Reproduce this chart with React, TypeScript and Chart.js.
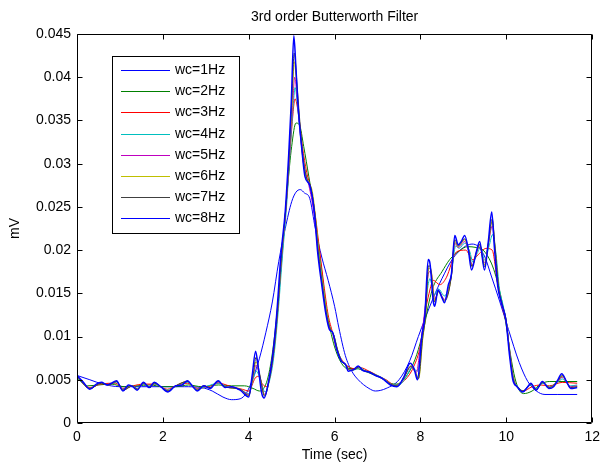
import React, { useEffect, useRef } from "react";
import { Chart, registerables } from "chart.js";

Chart.register(...registerables);

const TITLE = "3rd order Butterworth Filter";
const X_LABEL = "Time (sec)";
const Y_LABEL = "mV";
const X_MIN = 0;
const X_MAX = 12;
const X_STEP = 2;
const Y_MIN = 0;
const Y_MAX = 0.045;
const Y_STEP = 0.005;

const SERIES_LABELS = ["wc=1Hz", "wc=2Hz", "wc=3Hz", "wc=4Hz", "wc=5Hz", "wc=6Hz", "wc=7Hz", "wc=8Hz"];
const SERIES_COLORS = ["#0000ff", "#008000", "#ff0000", "#00bfbf", "#bf00bf", "#bfbf00", "#404040", "#0000ff"];

// wc = 1 Hz
const T1 = [0, 0.3, 0.6, 1.0, 1.5, 2.0, 2.5, 2.9, 3.15, 3.4, 3.6, 3.8, 3.95, 4.1, 4.25, 4.4, 4.55, 4.7, 4.85, 5.0, 5.1, 5.2, 5.3, 5.42, 5.55, 5.7, 5.85, 6.0, 6.1, 6.25, 6.4, 6.55, 6.8, 6.95, 7.2, 7.5, 7.75, 7.95, 8.1, 8.3, 8.5, 8.75, 9.0, 9.2, 9.35, 9.5, 9.65, 9.85, 10.05, 10.3, 10.5, 10.7, 10.9, 11.2, 11.65];
const V1 = [0.0055, 0.005, 0.0045, 0.0042, 0.0042, 0.0042, 0.0042, 0.0041, 0.0037, 0.003, 0.0027, 0.0028, 0.0035, 0.0052, 0.0075, 0.0105, 0.014, 0.0187, 0.0225, 0.0256, 0.0267, 0.027, 0.0266, 0.026, 0.0225, 0.0192, 0.0165, 0.0135, 0.011, 0.0078, 0.006, 0.005, 0.004, 0.0037, 0.004, 0.005, 0.0072, 0.01, 0.012, 0.0145, 0.0167, 0.019, 0.0203, 0.0207, 0.0204, 0.0192, 0.017, 0.014, 0.0108, 0.007, 0.0048, 0.0037, 0.0033, 0.0033, 0.0033];

// wc = 2 Hz
const T2 = [0, 0.25, 0.5, 0.8, 1.1, 1.4, 1.7, 2.0, 2.3, 2.6, 2.9, 3.3, 3.6, 3.9, 4.1, 4.25, 4.4, 4.5, 4.6, 4.7, 4.8, 4.9, 5.0, 5.1, 5.18, 5.28, 5.4, 5.5, 5.6, 5.7, 5.8, 5.9, 6.0, 6.15, 6.3, 6.5, 6.7, 6.9, 7.1, 7.3, 7.45, 7.6, 7.8, 7.95, 8.1, 8.2, 8.3, 8.5, 8.68, 8.9, 9.1, 9.3, 9.46, 9.65, 9.76, 9.9, 10.0, 10.1, 10.2, 10.3, 10.4, 10.6, 10.8, 11.0, 11.65];
const V2 = [0.0052, 0.0043, 0.0044, 0.0045, 0.0042, 0.0043, 0.0044, 0.0042, 0.0042, 0.0044, 0.0042, 0.0044, 0.0043, 0.0043, 0.004, 0.0037, 0.0045, 0.0065, 0.01, 0.015, 0.021, 0.027, 0.032, 0.0347, 0.0345, 0.032, 0.0285, 0.0255, 0.0215, 0.0175, 0.0135, 0.0108, 0.0088, 0.007, 0.0063, 0.0063, 0.006, 0.0056, 0.0052, 0.0046, 0.0045, 0.005, 0.0065, 0.0085, 0.0115, 0.014, 0.0158, 0.0175, 0.0189, 0.0199, 0.0204, 0.0203, 0.02, 0.0185, 0.0169, 0.014, 0.0112, 0.0078, 0.0052, 0.0038, 0.0034, 0.0037, 0.0045, 0.0048, 0.0048];

// wc = 3 Hz
const T3 = [0, 0.3, 0.55, 0.9, 1.07, 1.3, 1.55, 1.8, 2.1, 2.3, 2.57, 2.8, 3.05, 3.3, 3.6, 3.85, 4.0, 4.15, 4.22, 4.32, 4.42, 4.52, 4.62, 4.72, 4.82, 4.92, 5.0, 5.08, 5.15, 5.25, 5.35, 5.45, 5.55, 5.65, 5.75, 5.85, 5.95, 6.05, 6.2, 6.3, 6.45, 6.6, 6.8, 7.0, 7.2, 7.4, 7.6, 7.84, 8.0, 8.1, 8.2, 8.3, 8.45, 8.6, 8.84, 9.05, 9.22, 9.35, 9.53, 9.67, 9.8, 9.9, 10.0, 10.08, 10.17, 10.27, 10.4, 10.6, 10.8, 11.0, 11.3, 11.65];
const V3 = [0.0053, 0.0041, 0.0045, 0.0046, 0.004, 0.0043, 0.0045, 0.0045, 0.0039, 0.0043, 0.0046, 0.004, 0.0042, 0.0046, 0.0042, 0.0039, 0.0037, 0.0052, 0.0054, 0.0045, 0.0042, 0.0065, 0.0105, 0.016, 0.022, 0.0285, 0.034, 0.0375, 0.036, 0.032, 0.029, 0.027, 0.024, 0.02, 0.016, 0.0125, 0.0105, 0.0085, 0.0071, 0.0066, 0.0063, 0.0064, 0.006, 0.0055, 0.005, 0.0044, 0.0048, 0.0065, 0.009, 0.0125, 0.015, 0.0165, 0.016, 0.0168, 0.0198, 0.02, 0.0189, 0.0195, 0.0202, 0.02, 0.016, 0.0135, 0.0115, 0.0082, 0.0052, 0.0041, 0.0037, 0.0042, 0.0044, 0.0043, 0.0047, 0.0046];

// wc = 4 Hz
const T4 = [0, 0.3, 0.57, 0.75, 0.92, 1.07, 1.3, 1.4, 1.55, 1.7, 1.8, 2.12, 2.3, 2.57, 2.8, 3.0, 3.29, 3.5, 3.8, 4.0, 4.1, 4.18, 4.27, 4.38, 4.48, 4.58, 4.68, 4.78, 4.88, 4.97, 5.04, 5.08, 5.14, 5.22, 5.32, 5.43, 5.54, 5.63, 5.73, 5.83, 5.91, 5.98, 6.08, 6.18, 6.28, 6.38, 6.5, 6.6, 6.7, 6.85, 7.0, 7.15, 7.32, 7.5, 7.65, 7.8, 7.93, 8.05, 8.15, 8.22, 8.32, 8.42, 8.56, 8.72, 8.82, 8.9, 9.03, 9.15, 9.22, 9.32, 9.4, 9.5, 9.6, 9.68, 9.76, 9.84, 9.92, 10.0, 10.08, 10.17, 10.27, 10.4, 10.57, 10.7, 10.85, 11.0, 11.2, 11.3, 11.5, 11.65];
const V4 = [0.0053, 0.004, 0.0046, 0.0044, 0.0047, 0.0039, 0.0043, 0.004, 0.0045, 0.0042, 0.0045, 0.0038, 0.0043, 0.0047, 0.0039, 0.0042, 0.0046, 0.0042, 0.0039, 0.0034, 0.005, 0.006, 0.005, 0.0036, 0.0048, 0.0075, 0.0125, 0.019, 0.025, 0.032, 0.037, 0.0388, 0.0365, 0.0325, 0.029, 0.0273, 0.024, 0.0199, 0.016, 0.0124, 0.0108, 0.0102, 0.0083, 0.0071, 0.0066, 0.0061, 0.0062, 0.0064, 0.0061, 0.0058, 0.0055, 0.0051, 0.0045, 0.0044, 0.0052, 0.0064, 0.006, 0.0103, 0.015, 0.0167, 0.0148, 0.0155, 0.0147, 0.0172, 0.0205, 0.0202, 0.0208, 0.0198, 0.0186, 0.0196, 0.0203, 0.0188, 0.0205, 0.0218, 0.0195, 0.0155, 0.0137, 0.0117, 0.0082, 0.0051, 0.0042, 0.0037, 0.0044, 0.004, 0.0046, 0.0042, 0.0047, 0.0051, 0.0043, 0.0044];

// wc = 5 Hz
const T5 = [0, 0.3, 0.57, 0.75, 0.92, 1.07, 1.3, 1.4, 1.55, 1.7, 1.8, 2.12, 2.3, 2.57, 2.8, 2.95, 3.1, 3.29, 3.45, 3.8, 4.0, 4.1, 4.17, 4.26, 4.37, 4.47, 4.57, 4.67, 4.77, 4.87, 4.96, 5.02, 5.07, 5.13, 5.2, 5.29, 5.4, 5.52, 5.61, 5.71, 5.81, 5.89, 5.97, 6.07, 6.17, 6.27, 6.35, 6.47, 6.57, 6.67, 6.82, 6.97, 7.12, 7.3, 7.47, 7.62, 7.78, 7.9, 8.0, 8.1, 8.2, 8.26, 8.33, 8.42, 8.56, 8.72, 8.8, 8.88, 9.03, 9.12, 9.2, 9.3, 9.38, 9.49, 9.58, 9.67, 9.74, 9.82, 9.9, 10.0, 10.08, 10.16, 10.26, 10.39, 10.57, 10.7, 10.85, 11.0, 11.2, 11.3, 11.5, 11.65];
const V5 = [0.0054, 0.004, 0.0046, 0.0044, 0.0048, 0.0038, 0.0043, 0.0039, 0.0046, 0.0041, 0.0046, 0.0037, 0.0043, 0.0048, 0.0038, 0.0043, 0.0041, 0.0047, 0.0042, 0.0039, 0.0033, 0.0053, 0.0067, 0.0054, 0.0033, 0.0048, 0.0077, 0.0127, 0.0195, 0.025, 0.0318, 0.0365, 0.04, 0.0375, 0.0335, 0.0295, 0.0275, 0.0242, 0.02, 0.016, 0.0125, 0.0109, 0.0103, 0.0084, 0.0071, 0.0067, 0.0061, 0.0062, 0.0065, 0.0061, 0.0059, 0.0055, 0.0051, 0.0045, 0.0043, 0.0053, 0.0065, 0.0058, 0.009, 0.013, 0.0175, 0.0172, 0.0143, 0.0153, 0.0143, 0.0171, 0.0208, 0.0203, 0.021, 0.0199, 0.0183, 0.0196, 0.0205, 0.0185, 0.0206, 0.0228, 0.0199, 0.0156, 0.0137, 0.0117, 0.0081, 0.0051, 0.0042, 0.0037, 0.0045, 0.0039, 0.0047, 0.0041, 0.0048, 0.0053, 0.0042, 0.0043];

// wc = 6 Hz
const T6 = [0, 0.3, 0.57, 0.75, 0.92, 1.07, 1.3, 1.4, 1.55, 1.7, 1.8, 2.12, 2.3, 2.57, 2.8, 2.95, 3.1, 3.29, 3.45, 3.8, 4.0, 4.1, 4.17, 4.25, 4.37, 4.47, 4.57, 4.67, 4.77, 4.87, 4.95, 5.01, 5.06, 5.12, 5.19, 5.27, 5.37, 5.48, 5.56, 5.63, 5.73, 5.83, 5.9, 5.97, 6.07, 6.17, 6.27, 6.35, 6.47, 6.57, 6.67, 6.82, 6.97, 7.12, 7.3, 7.47, 7.62, 7.78, 7.88, 7.96, 8.05, 8.12, 8.19, 8.25, 8.33, 8.42, 8.56, 8.72, 8.8, 8.88, 9.03, 9.12, 9.2, 9.3, 9.38, 9.49, 9.58, 9.67, 9.74, 9.82, 9.9, 10.0, 10.08, 10.16, 10.26, 10.39, 10.57, 10.7, 10.85, 11.0, 11.2, 11.3, 11.5, 11.65];
const V6 = [0.0054, 0.004, 0.0046, 0.0044, 0.0048, 0.0038, 0.0043, 0.0039, 0.0046, 0.0041, 0.0046, 0.0037, 0.0043, 0.0048, 0.0038, 0.0043, 0.0041, 0.0048, 0.0042, 0.0039, 0.0032, 0.0054, 0.0071, 0.0056, 0.0032, 0.0048, 0.0078, 0.0128, 0.0197, 0.0252, 0.0318, 0.0368, 0.0418, 0.0388, 0.0345, 0.0302, 0.028, 0.0268, 0.0236, 0.0197, 0.0158, 0.0124, 0.0109, 0.0103, 0.0084, 0.0071, 0.0067, 0.0061, 0.0062, 0.0065, 0.0061, 0.0059, 0.0055, 0.0051, 0.0045, 0.0043, 0.0053, 0.0066, 0.0059, 0.0052, 0.0096, 0.0125, 0.0179, 0.0176, 0.0141, 0.0152, 0.0142, 0.017, 0.021, 0.0204, 0.0212, 0.02, 0.0181, 0.0197, 0.0206, 0.0183, 0.0207, 0.0233, 0.0201, 0.0156, 0.0137, 0.0117, 0.008, 0.0051, 0.0042, 0.0037, 0.0045, 0.0039, 0.0047, 0.0041, 0.0049, 0.0054, 0.0041, 0.0042];

// wc = 7 Hz
const T7 = [0, 0.3, 0.57, 0.75, 0.92, 1.07, 1.3, 1.4, 1.55, 1.7, 1.8, 2.12, 2.3, 2.57, 2.8, 2.95, 3.1, 3.29, 3.45, 3.8, 4.0, 4.1, 4.17, 4.25, 4.37, 4.47, 4.57, 4.67, 4.77, 4.87, 4.95, 5.0, 5.06, 5.12, 5.18, 5.26, 5.35, 5.45, 5.55, 5.62, 5.72, 5.82, 5.9, 5.97, 6.07, 6.17, 6.27, 6.35, 6.47, 6.57, 6.67, 6.82, 6.97, 7.12, 7.3, 7.47, 7.62, 7.78, 7.87, 7.95, 8.05, 8.12, 8.19, 8.24, 8.32, 8.42, 8.56, 8.72, 8.8, 8.88, 9.03, 9.12, 9.2, 9.3, 9.38, 9.49, 9.58, 9.67, 9.74, 9.82, 9.9, 10.0, 10.08, 10.16, 10.26, 10.39, 10.57, 10.7, 10.85, 11.0, 11.2, 11.3, 11.5, 11.65];
const V7 = [0.0054, 0.004, 0.0046, 0.0044, 0.0048, 0.0038, 0.0043, 0.0039, 0.0046, 0.0041, 0.0046, 0.0037, 0.0043, 0.0048, 0.0038, 0.0043, 0.0041, 0.0048, 0.0042, 0.0039, 0.0032, 0.0055, 0.0076, 0.0058, 0.0031, 0.0048, 0.0078, 0.0128, 0.0198, 0.0252, 0.0318, 0.037, 0.0428, 0.0395, 0.0355, 0.031, 0.0283, 0.0272, 0.0238, 0.0198, 0.0158, 0.0124, 0.0109, 0.0103, 0.0084, 0.0071, 0.0067, 0.0061, 0.0062, 0.0065, 0.0061, 0.0059, 0.0055, 0.0051, 0.0045, 0.0043, 0.0053, 0.0066, 0.006, 0.0051, 0.0098, 0.0125, 0.0182, 0.0178, 0.014, 0.0152, 0.0141, 0.017, 0.0212, 0.0205, 0.0213, 0.0201, 0.0181, 0.0197, 0.0207, 0.0181, 0.0207, 0.0236, 0.0202, 0.0157, 0.0138, 0.0117, 0.008, 0.0051, 0.0042, 0.0037, 0.0045, 0.0039, 0.0047, 0.0041, 0.0049, 0.0055, 0.0041, 0.0042];

// wc = 8 Hz
const T8 = [0, 0.15, 0.3, 0.45, 0.57, 0.7, 0.8, 0.92, 1.07, 1.2, 1.3, 1.4, 1.55, 1.68, 1.8, 1.95, 2.12, 2.3, 2.45, 2.57, 2.7, 2.8, 2.95, 3.1, 3.29, 3.45, 3.6, 3.8, 4.0, 4.08, 4.16, 4.22, 4.3, 4.36, 4.45, 4.55, 4.65, 4.75, 4.85, 4.93, 4.99, 5.05, 5.1, 5.15, 5.23, 5.31, 5.42, 5.53, 5.6, 5.7, 5.8, 5.88, 5.95, 6.05, 6.15, 6.25, 6.32, 6.45, 6.55, 6.65, 6.8, 6.95, 7.1, 7.3, 7.45, 7.6, 7.76, 7.85, 7.93, 8.03, 8.1, 8.18, 8.22, 8.3, 8.33, 8.41, 8.5, 8.56, 8.65, 8.72, 8.8, 8.88, 8.95, 9.03, 9.11, 9.19, 9.3, 9.38, 9.49, 9.58, 9.66, 9.72, 9.8, 9.88, 9.99, 10.07, 10.15, 10.25, 10.38, 10.5, 10.57, 10.69, 10.84, 10.99, 11.1, 11.2, 11.29, 11.4, 11.5, 11.65];
const V8 = [0.0055, 0.0047, 0.0039, 0.0045, 0.0047, 0.0044, 0.0046, 0.0049, 0.0037, 0.0044, 0.0042, 0.0038, 0.0047, 0.0041, 0.0047, 0.0042, 0.0036, 0.0043, 0.0044, 0.0049, 0.0042, 0.0037, 0.0043, 0.004, 0.0049, 0.0041, 0.0042, 0.0038, 0.003, 0.0055, 0.0083, 0.0065, 0.0035, 0.0029, 0.0045, 0.0075, 0.0125, 0.0195, 0.0245, 0.031, 0.037, 0.0448, 0.041, 0.0366, 0.032, 0.0285, 0.0275, 0.0243, 0.02, 0.016, 0.0125, 0.0108, 0.0105, 0.0085, 0.0072, 0.0068, 0.006, 0.0062, 0.0066, 0.0061, 0.0059, 0.0055, 0.0052, 0.0044, 0.0042, 0.0052, 0.0069, 0.0063, 0.005, 0.01, 0.0123, 0.0189, 0.0185, 0.014, 0.0135, 0.0154, 0.0145, 0.0139, 0.016, 0.0172, 0.0217, 0.0206, 0.021, 0.0217, 0.0202, 0.0177, 0.0198, 0.021, 0.0177, 0.021, 0.0244, 0.0204, 0.0158, 0.014, 0.0119, 0.008, 0.005, 0.0042, 0.0036, 0.0042, 0.0046, 0.0038, 0.0048, 0.004, 0.0042, 0.005, 0.0057, 0.0048, 0.004, 0.0041];

const SERIES_T = [T1, T2, T3, T4, T5, T6, T7, T8];
const SERIES_V = [V1, V2, V3, V4, V5, V6, V7, V8];

const FONT = "'Liberation Sans', Arial, Helvetica, sans-serif";
const FONT_SIZE = 14;

const PLOT = { left: 77, top: 34, right: 597, bottom: 423 };
const LEGEND = { left: 112, top: 56, right: 239, bottom: 233, firstRow: 70, rowGap: 21.2, lineX0: 121, lineX1: 170, textX: 175 };

const matlabPlugin = {
  id: "matlabDecor",
  afterDraw(chart: any) {
    const ctx = chart.ctx as CanvasRenderingContext2D;
    const area = chart.chartArea;
    const xs = chart.scales.x;
    const ys = chart.scales.y;
    ctx.save();
    ctx.strokeStyle = "#000";
    ctx.lineWidth = 1;
    const L = Math.round(area.left) + 0.5;
    const R = Math.round(area.right) - 0.5;
    const T = Math.round(area.top) + 0.5;
    const B = Math.round(area.bottom) - 0.5;
    ctx.beginPath();
    ctx.rect(L, T, R - L, B - T);
    ctx.stroke();
    const tl = 5;
    ctx.beginPath();
    xs.ticks.forEach((t: any) => {
      const px = Math.round(xs.getPixelForValue(t.value)) + 0.5;
      ctx.moveTo(px, B);
      ctx.lineTo(px, B - tl);
      ctx.moveTo(px, T);
      ctx.lineTo(px, T + tl);
    });
    ys.ticks.forEach((t: any) => {
      const py = Math.round(ys.getPixelForValue(t.value)) + 0.5;
      ctx.moveTo(L, py);
      ctx.lineTo(L + tl, py);
      ctx.moveTo(R, py);
      ctx.lineTo(R - tl, py);
    });
    ctx.stroke();

    ctx.fillStyle = "#000";
    ctx.font = `${FONT_SIZE}px ${FONT}`;
    ctx.textAlign = "center";
    ctx.textBaseline = "middle";
    const cx = (area.left + area.right) / 2;
    ctx.fillText(TITLE, cx, 17);
    ctx.fillText(X_LABEL, cx, 455);
    ctx.save();
    ctx.translate(15, (area.top + area.bottom) / 2);
    ctx.rotate(-Math.PI / 2);
    ctx.fillText(Y_LABEL, 0, 0);
    ctx.restore();

    ctx.fillStyle = "#fff";
    ctx.fillRect(LEGEND.left, LEGEND.top, LEGEND.right - LEGEND.left, LEGEND.bottom - LEGEND.top);
    ctx.strokeStyle = "#000";
    ctx.strokeRect(LEGEND.left + 0.5, LEGEND.top + 0.5, LEGEND.right - LEGEND.left, LEGEND.bottom - LEGEND.top);
    ctx.textAlign = "left";
    SERIES_LABELS.forEach((lab, i) => {
      const y = Math.round(LEGEND.firstRow + i * LEGEND.rowGap) + 0.5;
      ctx.strokeStyle = SERIES_COLORS[i];
      ctx.beginPath();
      ctx.moveTo(LEGEND.lineX0, y);
      ctx.lineTo(LEGEND.lineX1, y);
      ctx.stroke();
      ctx.fillStyle = "#000";
      ctx.fillText(lab, LEGEND.textX, y);
    });
    ctx.restore();
  },
};

export default function App() {
  const canvasRef = useRef<HTMLCanvasElement | null>(null);

  useEffect(() => {
    document.body.style.margin = "0";
    const canvas = canvasRef.current;
    if (!canvas) return;
    const datasets = SERIES_LABELS.map((label, i) => ({
      label,
      data: SERIES_T[i].map((t, j) => ({ x: t, y: SERIES_V[i][j] })),
      borderColor: SERIES_COLORS[i],
      backgroundColor: SERIES_COLORS[i],
      borderWidth: i === 7 ? 1.5 : 1,
      pointRadius: 0,
      cubicInterpolationMode: "monotone" as const,
      order: SERIES_LABELS.length - 1 - i,
      fill: false,
    }));
    const chart = new Chart(canvas, {
      type: "line",
      data: { datasets },
      options: {
        responsive: false,
        animation: false,
        layout: { padding: { top: PLOT.top, right: 606 - PLOT.right, left: 0, bottom: 0 } },
        plugins: { legend: { display: false }, title: { display: false }, tooltip: { enabled: false } },
        scales: {
          x: {
            type: "linear",
            min: X_MIN,
            max: X_MAX,
            grid: { display: false, drawTicks: false },
            border: { display: false },
            ticks: { stepSize: X_STEP, padding: 6, color: "#000", font: { family: FONT, size: FONT_SIZE } },
            afterFit: (s: any) => { s.height = 463 - PLOT.bottom; },
          },
          y: {
            type: "linear",
            min: Y_MIN,
            max: Y_MAX,
            grid: { display: false, drawTicks: false },
            border: { display: false },
            ticks: {
              stepSize: Y_STEP,
              padding: 6,
              color: "#000",
              autoSkip: false,
              font: { family: FONT, size: FONT_SIZE },
              callback: (v: any) => String(Math.round(Number(v) * 1000) / 1000),
            },
            afterFit: (s: any) => { s.width = PLOT.left; },
          },
        },
      },
      plugins: [matlabPlugin],
    });
    return () => chart.destroy();
  }, []);

  return <canvas ref={canvasRef} width={606} height={463} style={{ display: "block" }} />;
}
